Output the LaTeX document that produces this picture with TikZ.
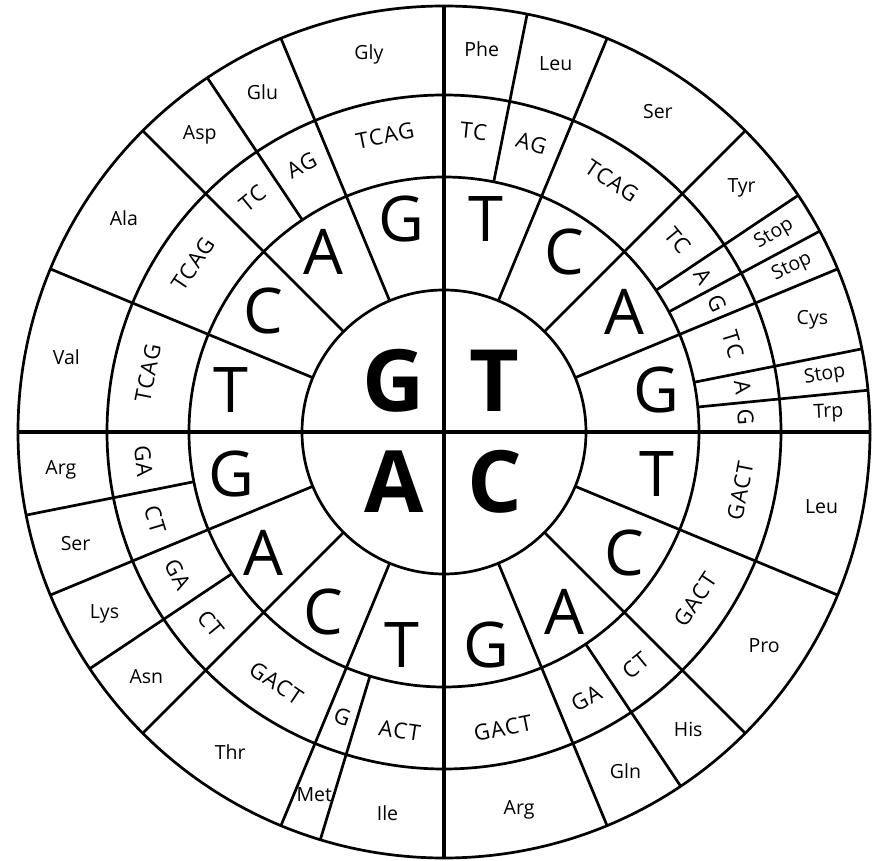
\documentclass[tikz,border=0pt]{standalone}
\usepackage{fontspec}
\setmainfont{Open Sans}
\newfontfamily\thirdfont[LetterSpace=5]{Open Sans}
\tikzset{
	ring/.style={line width=2.7pt},
	cross/.style={line width=4pt},
	firstbase/.style={font=\fontsize{86}{86}\selectfont\bfseries},
	secondbase/.style={font=\fontsize{63}{63}\selectfont},
	thirdbase/.style={font=\fontsize{22}{22}\thirdfont, inner sep=0pt},
	amino/.style={font=\fontsize{19.5}{19.5}\selectfont, inner sep=0pt}
}

\begin{document}
\begin{tikzpicture}[x=1pt,y=1pt]
	\useasboundingbox (-444,-429) rectangle (440,432);
	% rings and quadrants
	\foreach \r in {142,255,337,426}
		\draw[ring] (0,0) circle (\r);
	\draw[cross] (-426,0) -- (426,0);
	\draw[cross] (0,-426) -- (0,426);
	% second base sectors
	\foreach \a in {22.5,45,67.5,112.5,135,157.5,202.5,225,247.5,292.5,315,337.5}
		\draw[ring] (\a:142) -- (\a:426);
	% codon groups
	\foreach \a in {78.75,33.75,28.125,11.25,5.625,123.75,303.75,253.125,213.75,191.25}
		\draw[ring] (\a:255) -- (\a:426);
	% first base
	\node[firstbase] (fG) at (-50,51) {G};
	\node[firstbase] (fT) at (50,51) {T};
	\node[firstbase] (fA) at (-50,-50) {A};
	\node[firstbase] (fC) at (51,-50) {C};
	% second base
	\foreach \a/\t [count=\i] in {78.75/T,56.25/C,33.75/A,11.25/G,101.25/G,123.75/A,146.25/C,168.75/T,
			191.25/G,213.75/A,236.25/C,258.75/T,281.25/G,303.75/A,326.25/C,348.75/T}
		\node[secondbase] (s\i) at (\a:217) {\t};
	% third base, upper half
	\foreach \a/\t [count=\i] in {84.375/TC,73.125/AG,56.25/TCAG,39.375/TC,30.9375/A,25.3125/G,
			16.875/TC,8.4375/A,2.8125/G,101.25/TCAG,118.125/AG,129.375/TC,146.25/TCAG,168.75/TCAG}
		\node[thirdbase,rotate=\a-90] (tu\i) at (\a:302) {\t};
	% third base, lower half
	\foreach \a/\t [count=\i] in {185.625/GA,196.875/CT,208.125/GA,219.375/CT,236.25/GACT,250.3125/G,
			261.5625/ACT,281.25/GACT,298.125/GA,309.375/CT,326.25/GACT,348.75/GACT}
		\node[thirdbase,rotate=\a+90] (tl\i) at (\a:302) {\t};
	% amino acids
	\foreach \a/\t [count=\i] in {84.375/Phe,73.125/Leu,56.25/Ser,39.375/Tyr,16.875/Cys,
			101.25/Gly,118.125/Glu,129.375/Asp,146.25/Ala,168.75/Val,
			185.625/Arg,196.875/Ser,208.125/Lys,219.375/Asn,236.25/Thr,250.3125/Met,261.5625/Ile,
			281.25/Arg,298.125/Gln,309.375/His,326.25/Pro,348.75/Leu}
		\node[amino] (aa\i) at (\a:385) {\t};
	\foreach \a/\t [count=\i] in {30.9375/Stop,25.3125/Stop,8.4375/Stop,2.8125/Trp}
		\node[amino,rotate=\a] (st\i) at (\a:385) {\t};
\end{tikzpicture}
\end{document}
